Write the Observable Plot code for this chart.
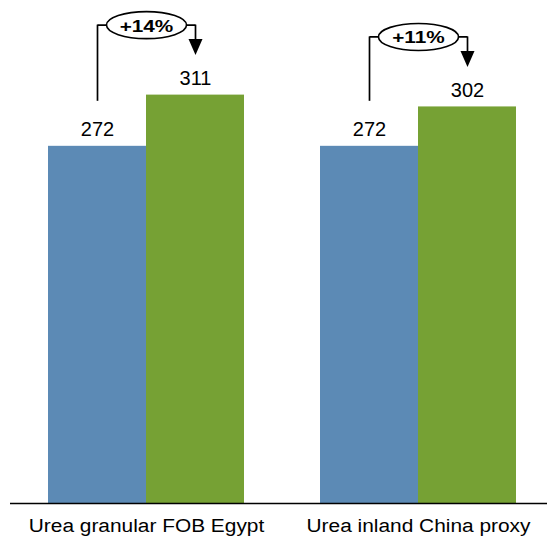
<!DOCTYPE html>
<html><head><meta charset="utf-8">
<script src="https://cdn.jsdelivr.net/npm/d3@7"></script>
<script src="https://cdn.jsdelivr.net/npm/@observablehq/plot@0.6"></script>
<style>body{margin:0;background:#fff} #chart svg{display:block}</style>
</head><body><div id="chart"></div>
<script>
const groups = ["Urea granular FOB Egypt", "Urea inland China proxy"];
const series = ["Before", "After"];
const beforeValues = [272, 272];
const afterValues = [311, 302];
const changeLabels = ["+14%", "+11%"];
const seriesColors = ["#5C8AB5", "#76A134"];

const bars = groups.flatMap((g, i) => [
  {group: g, series: series[0], value: beforeValues[i]},
  {group: g, series: series[1], value: afterValues[i]}
]);
const notes = groups.map((g, i) => ({group: g, before: beforeValues[i], after: afterValues[i], label: changeLabels[i]}));

const ellipse = {draw(ctx) {
  const rx = 40, ry = 13.5, k = 0.5523;
  ctx.moveTo(-rx, 0);
  ctx.bezierCurveTo(-rx, -ry * k, -rx * k, -ry, 0, -ry);
  ctx.bezierCurveTo(rx * k, -ry, rx, -ry * k, rx, 0);
  ctx.bezierCurveTo(rx, ry * k, rx * k, ry, 0, ry);
  ctx.bezierCurveTo(-rx * k, ry, -rx, ry * k, -rx, 0);
  ctx.closePath();
}};
const triDown = {draw(ctx) {
  ctx.moveTo(-7, -8); ctx.lineTo(7, -8); ctx.lineTo(0, 8); ctx.closePath();
}};

const lift = -70;

const chart = Plot.plot({
  width: 547, height: 538,
  marginTop: 4, marginBottom: 35, marginLeft: 0, marginRight: 0,
  fx: {domain: groups, range: [10, 554], paddingInner: 0.28, paddingOuter: 0.14, axis: null, label: null},
  x: {domain: series, padding: 0, axis: null},
  y: {domain: [0, 380], axis: null},
  color: {domain: series, range: seriesColors},
  style: {fontFamily: "'Liberation Sans', Arial, sans-serif", color: "black", background: "white"},
  marks: [
    Plot.barY(bars, {fx: "group", x: "series", y: "value", fill: "series"}),
    Plot.ruleY([0], {stroke: "black", strokeWidth: 1.5, insetLeft: -38, insetRight: -38}),
    Plot.text(bars, {fx: "group", x: "series", y: "value", text: d => String(d.value), dy: -10, lineAnchor: "bottom", fontSize: 20, fill: "black"}),
    Plot.text(groups, {fx: d => d, text: d => d, frameAnchor: "bottom", lineAnchor: "bottom", dy: 28, fontSize: 18, fill: "black"}),
    Plot.ruleX(notes, {fx: "group", x: () => series[0], y1: "after", y2: "before", insetTop: lift, insetBottom: 45, stroke: "black", strokeWidth: 1.7}),
    Plot.link(notes, {fx: "group", x1: () => series[0], x2: () => series[1], y1: "after", y2: "after", dy: lift, stroke: "black", strokeWidth: 1.7}),
    Plot.ruleX(notes, {fx: "group", x: () => series[1], y1: "after", y2: "after", insetTop: lift, insetBottom: 55, stroke: "black", strokeWidth: 1.7}),
    Plot.dot(notes, {fx: "group", x: () => series[1], y: "after", dy: lift + 22, symbol: triDown, fill: "black", stroke: "none"}),
    Plot.dot(notes, {fx: "group", y: "after", dy: lift, symbol: ellipse, fill: "white", stroke: "black", strokeWidth: 1.6}),
    Plot.text(notes, {fx: "group", y: "after", dy: lift + 1, text: "label", fontWeight: "bold", fontSize: 17, fill: "black"})
  ]
});

// The reference typesets the category and change labels slightly wide.
d3.select(chart).selectAll("text").each(function () {
  const t = this.textContent;
  const sx = groups.includes(t) ? 1.16 : changeLabels.includes(t) ? 1.22 : 1;
  if (sx === 1) return;
  const X = +this.getAttribute("x") || 0, Y = +this.getAttribute("y") || 0;
  const T = this.getAttribute("transform") || "";
  this.setAttribute("transform", `${T} translate(${X},${Y}) scale(${sx},1) translate(${-X},${-Y})`);
});
document.getElementById("chart").appendChild(chart);
</script>
</body></html>
